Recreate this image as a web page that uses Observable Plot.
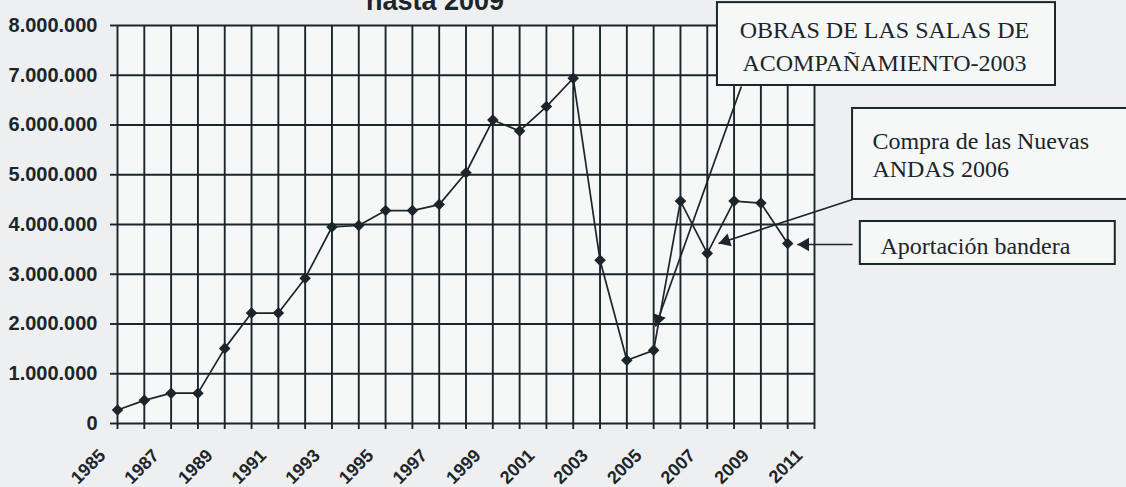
<!DOCTYPE html>
<html>
<head>
<meta charset="utf-8">
<script src="https://cdn.jsdelivr.net/npm/d3@7"></script>
<script src="https://cdn.jsdelivr.net/npm/@observablehq/plot@0.6"></script>
<style>
  html, body { margin: 0; padding: 0; background: #eeeff0; overflow: hidden; }
  #chart svg { display: block; }
</style>
</head>
<body>
<div id="chart"></div>
<script>
// ---- data ----
const years = [1985, 1986, 1987, 1988, 1989, 1990, 1991, 1992, 1993, 1994, 1995, 1996, 1997,
               1998, 1999, 2000, 2001, 2002, 2003, 2004, 2005, 2006, 2007, 2008, 2009, 2010];
const values = [270000, 465000, 610000, 610000, 1510000, 2220000, 2220000, 2920000, 3950000, 3980000,
                4280000, 4280000, 4400000, 5040000, 6100000, 5880000, 6370000, 6940000, 3280000,
                1270000, 1470000, 4470000, 3420000, 4470000, 4430000, 3620000];
const xTicks = d3.range(1985, 2012);
const xLabels = [1985, 1987, 1989, 1991, 1993, 1995, 1997, 1999, 2001, 2003, 2005, 2007, 2009, 2011];
const yTicks = [0, 1000000, 2000000, 3000000, 4000000, 5000000, 6000000, 7000000, 8000000];
const title = "hasta 2009";

// annotation boxes (in chart units: years / value)
const noteBoxes = [
  {x1: 2007.38, x2: 2019.99, y1: 8460000, y2: 6794000},
  {x1: 2012.42, x2: 2024.5, y1: 6332000, y2: 4503000},
  {x1: 2012.71, x2: 2022.22, y1: 4060000, y2: 3196000}
];
const noteCentered = [
  {x: 2013.61, y: 7739000, text: "OBRAS DE LAS SALAS DE"},
  {x: 2013.61, y: 7095000, text: "ACOMPAÑAMIENTO-2003"}
];
const noteLeft = [
  {x: 2013.16, y: 5508000, text: "Compra de las Nuevas"},
  {x: 2013.16, y: 4945000, text: "ANDAS 2006"},
  {x: 2013.46, y: 3397000, text: "Aportación bandera"}
];
const noteArrows = [
  {x1: 2008.27, y1: 6774000, x2: 2005.07, y2: 1950000},
  {x1: 2012.42, y1: 4503000, x2: 2007.42, y2: 3618000},
  {x1: 2012.42, y1: 3598000, x2: 2010.36, y2: 3598000}
];

// ---- build ----
const data = years.map((year, i) => ({year, value: values[i]}));
const W = 1126, H = 487, mL = 117, mR = 312, mT = 25, mB = 64;
const ink = "#1b252a";
const kx = (W - mL - mR) / (2011 - 1985);
const ky = (H - mT - mB) / 8000000;
const fmt = d => d3.format(",")(d).replace(/,/g, ".");
const serif = "'Liberation Serif', 'Times New Roman', serif";

const headR = 5;
const headTip = 2 * Math.sqrt((Math.PI * headR * headR) / (3 * Math.sqrt(3)));
const arrowHeads = noteArrows.map(a => {
  const dx = (a.x2 - a.x1) * kx, dy = -(a.y2 - a.y1) * ky;
  const len = Math.hypot(dx, dy);
  const ux = dx / len, uy = dy / len;
  const rot = Math.atan2(ux, -uy) * 180 / Math.PI;
  return Plot.dot([a], {x: "x2", y: "y2", symbol: "triangle", r: headR, fill: ink, stroke: null,
    rotate: rot, dx: -ux * headTip, dy: -uy * headTip});
});

const chart = Plot.plot({
  width: W, height: H,
  marginLeft: mL, marginRight: mR, marginTop: mT, marginBottom: mB,
  x: {domain: [1985, 2011]},
  y: {domain: [0, 8000000]},
  style: {background: "transparent", fontFamily: "'Liberation Sans', Arial, sans-serif", color: ink},
  marks: [
    Plot.frame({fill: "#f6f7f7", stroke: null}),
    Plot.gridX(xTicks, {stroke: ink, strokeOpacity: 1, strokeWidth: 1.9}),
    Plot.gridY(yTicks, {stroke: ink, strokeOpacity: 1, strokeWidth: 1.9}),
    Plot.axisY({ticks: yTicks, tickSize: 7, tickPadding: 13, tickFormat: fmt, fontSize: 20,
      fontWeight: "bold", label: null, strokeWidth: 1.9}),
    Plot.axisX({ticks: xTicks, tickSize: 6, tickFormat: () => "", label: null, strokeWidth: 1.9}),
    Plot.axisX({ticks: xLabels, tickSize: 0, tickPadding: 29, tickRotate: -45, dx: -15,
      tickFormat: d => String(d), fontSize: 18, fontWeight: "bold", label: null}),
    Plot.line(data, {x: "year", y: "value", stroke: ink, strokeWidth: 1.7}),
    Plot.dot(data, {x: "year", y: "value", symbol: "diamond2", r: 5.2, fill: ink, stroke: null}),
    Plot.rect(noteBoxes, {x1: "x1", x2: "x2", y1: "y1", y2: "y2", fill: "#f6f7f7", stroke: ink, strokeWidth: 2}),
    Plot.text(noteCentered, {x: "x", y: "y", text: "text", textAnchor: "middle", lineAnchor: "bottom",
      fontFamily: serif, fontSize: 24, fill: ink}),
    Plot.text(noteLeft, {x: "x", y: "y", text: "text", textAnchor: "start", lineAnchor: "bottom",
      fontFamily: serif, fontSize: 24, fill: ink}),
    Plot.link(noteArrows, {x1: "x1", y1: "y1", x2: "x2", y2: "y2", stroke: ink, strokeWidth: 1.7}),
    ...arrowHeads,
    Plot.text([title], {frameAnchor: "top", dx: -31, dy: -16, lineAnchor: "bottom", fontSize: 27,
      fontWeight: "bold", fill: ink})
  ]
});
document.getElementById("chart").appendChild(chart);
</script>
</body>
</html>
